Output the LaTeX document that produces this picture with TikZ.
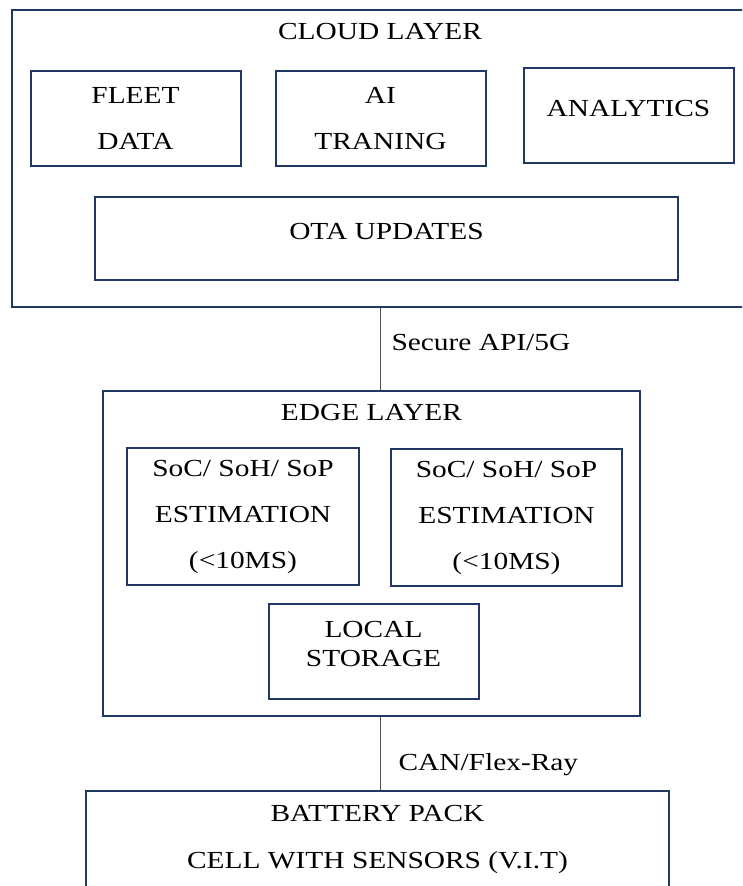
\documentclass[tikz,border=0pt]{standalone}
\usepackage{fontspec}
\setmainfont{Liberation Serif}[FakeStretch=1.2]
\usetikzlibrary{positioning}
\definecolor{boxnavy}{HTML}{203864}
\definecolor{wire}{HTML}{505050}

\begin{document}
\begin{tikzpicture}
[x=1pt,y=-1pt,
box/.style={draw=boxnavy,line width=2pt,rectangle,align=center,inner sep=0pt,
  font=\fontsize{24.5}{46}\selectfont},
heading/.style={inner sep=3pt,font=\fontsize{24.5}{28}\selectfont},
link/.style={draw=wire,line width=1pt},
lift/.style={text depth=#1}]
\useasboundingbox (0,0) rectangle (742,886);
\clip (0,0) rectangle (742,886);
% cloud layer
\node [box,minimum width=736pt,minimum height=297pt] (cloud) at (380,158.5) {};
\node [heading,below=11pt of cloud.north] (cloud title) {CLOUD LAYER};
\node [box,minimum width=210pt,minimum height=95pt] (fleet) at (135.5,118.5) {FLEET\\DATA};
\node [box,minimum width=210pt,minimum height=95pt] (ai) at (380.5,118.5) {AI\\TRANING};
\node [box,lift=15pt,minimum width=210pt,minimum height=95pt] (analytics) at (628.5,115.5) {ANALYTICS};
\node [box,lift=15pt,minimum width=583pt,minimum height=83pt] (ota) at (386.5,238.5) {OTA UPDATES};
% edge layer
\node [box,minimum width=537pt,minimum height=325pt] (edge) at (371.5,553.5) {};
\node [heading,below=11pt of edge.north] (edge title) {EDGE LAYER};
\node [box,minimum width=232pt,minimum height=137pt] (est a) at (243,516.5) {SoC/ SoH/ SoP\\ESTIMATION\\(<10MS)};
\node [box,minimum width=231pt,minimum height=137pt] (est b) at (506.5,517.5) {SoC/ SoH/ SoP\\ESTIMATION\\(<10MS)};
\node [box,lift=16pt,minimum width=210pt,minimum height=95pt,
  font=\fontsize{24.5}{29}\selectfont] (storage) at (373.5,651.5) {LOCAL\\STORAGE};
% battery
\node [box,anchor=north,inner ysep=14pt,lift=22pt,minimum width=583pt,
  font=\fontsize{24.5}{47}\selectfont] (battery) at (377.5,790) {BATTERY PACK\\CELL WITH SENSORS (V.I.T)};
% links
\draw [link] (cloud.south) -- (cloud.south |- edge.north)
  node [heading,pos=0.42,right=8pt] (api) {Secure API/5G};
\draw [link] (cloud.south |- edge.south) -- (cloud.south |- battery.north)
  node [heading,pos=0.65,right=15pt] (bus) {CAN/Flex-Ray};
\end{tikzpicture}
\end{document}
